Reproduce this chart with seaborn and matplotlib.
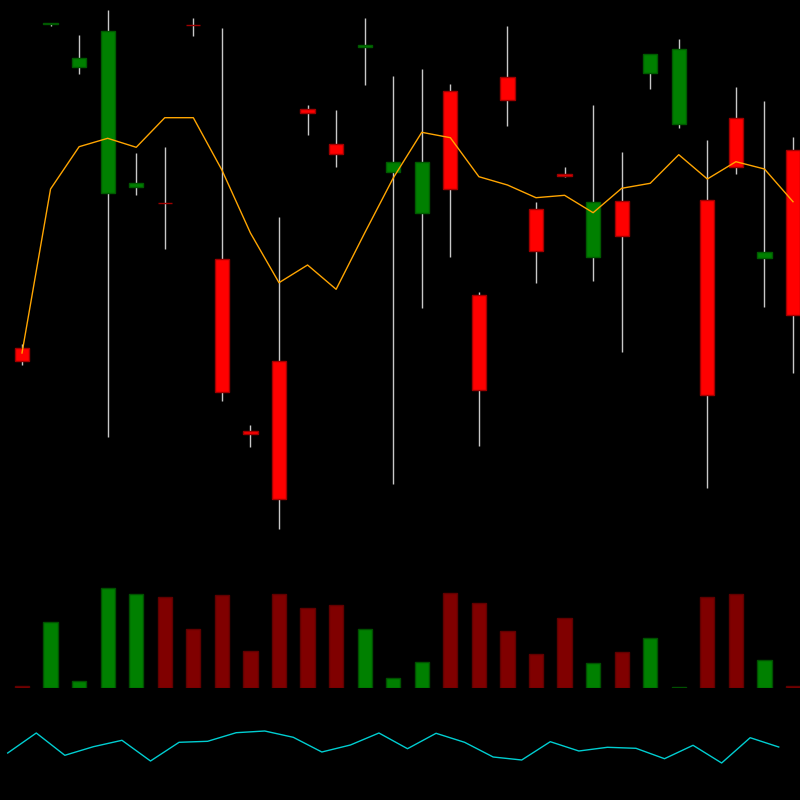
import numpy as np
import matplotlib
matplotlib.use("Agg")
import matplotlib.pyplot as plt
import seaborn as sns

# OHLC data (one candle per period)
opens  = [65.2, 97.65, 93.33, 80.67, 81.3, 79.701, 97.501, 74.07, 56.87, 63.93, 89.07, 85.6, 95.27, 82.77,
          78.67, 90.93, 70.5, 92.3, 79.07, 82.63, 74.33, 79.87, 92.7, 87.63, 80.0, 88.2, 74.23, 85.0]
highs  = [65.6, 97.7, 96.5, 99.0, 84.7, 85.3, 98.2, 97.17, 57.5, 78.3, 89.47, 89.0, 98.2, 92.4,
          93.1, 91.57, 70.77, 97.37, 79.77, 83.3, 89.47, 84.83, 94.6, 96.07, 86.0, 91.33, 89.87, 86.3]
lows   = [63.5, 97.43, 92.6, 56.3, 80.53, 75.07, 96.43, 59.93, 55.33, 47.13, 86.5, 83.33, 91.53, 51.6,
          69.23, 74.33, 55.4, 87.37, 71.73, 82.33, 71.87, 64.77, 91.07, 87.23, 51.23, 82.57, 69.3, 62.73]
closes = [63.9, 97.651, 94.2, 96.87, 81.67, 79.7, 97.5, 60.83, 56.63, 50.07, 88.73, 84.57, 95.53, 83.83,
          83.83, 81.07, 61.03, 89.97, 74.93, 82.43, 79.77, 76.37, 94.57, 95.1, 60.53, 83.33, 74.77, 68.5]

# moving average overlay
ma = [64.7, 81.1, 85.33, 86.17, 85.27, 88.23, 88.23, 83.0, 76.7, 71.73, 73.5, 71.07, 76.7, 82.2,
      86.77, 86.23, 82.33, 81.5, 80.23, 80.47, 78.73, 81.17, 81.67, 84.53, 82.1, 83.83, 83.1, 79.83]

# volume
volume = [2, 66, 7, 100, 94, 91, 59, 93, 37, 94, 80, 83, 59, 10,
          26, 95, 85, 57, 34, 70, 25, 36, 50, 1, 91, 94, 28, 2]

# oscillator in the lower panel
osc = [47, 67, 44.7, 53.3, 59.7, 39, 57.7, 58.7, 67.3, 69, 62.7, 48, 55, 67,
       51.3, 66.7, 57.7, 43, 40, 58.3, 49, 52.7, 51.7, 41.3, 54.7, 37, 62.3, 53]

idx = np.arange(len(opens))
up = np.array(closes) >= np.array(opens)

fig = plt.figure(figsize=(8, 8), dpi=100, facecolor="black")
ax = fig.add_axes([0, 0.3, 1, 0.7])
axv = fig.add_axes([0, 0.14, 1, 0.15])
axo = fig.add_axes([0, 0.0, 1, 0.125])

xlim = (-0.7704, 27.245)
for a in (ax, axv, axo):
    a.set_facecolor("black")
    a.set_xlim(*xlim)
    a.axis("off")

# candles
ax.vlines(idx, lows, highs, color="#c8c8c8", linewidth=1, zorder=1)
body_bottom = np.minimum(opens, closes)
body_height = np.abs(np.array(closes) - np.array(opens))
ax.bar(idx, body_height, bottom=body_bottom, width=0.5,
       color=np.where(up, "#008000", "#ff0000"),
       edgecolor=np.where(up, "#005a00", "#a00000"), linewidth=1, zorder=2)
sns.lineplot(x=idx, y=ma, ax=ax, color="orange", linewidth=1, zorder=3)
ax.set_ylim(44, 100)

# volume
axv.bar(idx, volume, width=0.5, color=np.where(up, "#008000", "#800000"),
        edgecolor=np.where(up, "#005000", "#600000"), linewidth=1)
axv.set_ylim(0, 120)

# oscillator
sns.lineplot(x=idx - 0.5, y=osc, ax=axo, color="#00ced1", linewidth=1)
axo.set_ylim(0, 100)

fig.savefig("out.png", dpi=100, facecolor="black")
